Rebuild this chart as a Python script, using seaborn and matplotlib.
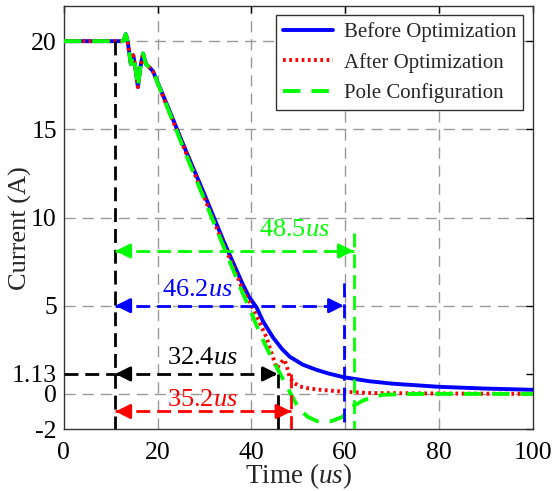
import pandas as pd
import seaborn as sns
import matplotlib.pyplot as plt

# shared start of the current curves (before the three designs split)
t_head = [0, 12.4, 12.8, 13.2, 13.6, 14.3, 14.8, 15.2, 15.8, 16.3, 16.9, 17.5, 18.3, 19]
i_head = [20, 20, 20.05, 20.4, 20.0, 18.7, 19.2, 18.6, 17.4, 18.5, 19.3, 18.7, 18.5, 18.3]

t_before = [22, 26, 30, 34, 36, 38, 39.5, 41.1, 42.5, 44.6, 46.5, 48.2, 51, 53.9, 56.5, 59.6, 65, 70, 80, 90, 100]
i_before = [16.4, 13.8, 11.3, 8.7, 7.5, 6.3, 5.5, 4.9, 4.1, 3.2, 2.55, 2.1, 1.65, 1.36, 1.15, 0.95, 0.72, 0.58, 0.4, 0.3, 0.23]

t_after = [22, 26, 30, 34, 36, 38, 40, 42, 43.2, 44.3, 45.4, 46.4, 47, 47.5, 48.2, 49.2, 50.3, 52, 55, 60, 65, 80, 100]
i_after = [16.3, 13.7, 11.1, 8.5, 7.3, 6.0, 5.0, 3.9, 3.2, 2.3, 1.45, 1.8, 1.95, 1.6, 0.9, 0.6, 0.42, 0.32, 0.22, 0.12, 0.05, 0.02, 0.0]

t_pole = [22, 26, 30, 34, 36, 38, 40, 42, 44, 45.6, 47, 48.2, 50, 52, 54, 57, 59.5, 61, 64, 68, 75, 100]
i_pole = [16.3, 13.6, 11.0, 8.4, 7.1, 5.8, 4.6, 3.3, 2.2, 1.4, 0.7, 0.1, -0.8, -1.3, -1.55, -1.55, -1.3, -0.8, -0.35, -0.05, 0.0, 0.0]

series = ["Before Optimization", "After Optimization", "Pole Configuration"]
colors = ["#0000ff", "#ff0000", "#00ff00"]

# time-interval annotations
span_start = 11
span_ends = [45.6, 48.5, 59.7, 61.8]
span_levels = [1.13, -1.0, 5.0, 8.1]
span_tops = [1.13, 1.1, 6.3, 9.1]
span_labels = ["32.4", "35.2", "46.2", "48.5"]
span_colors = ["black", "#ff0000", "#0000ff", "#00ff00"]
label_pos = [(29.6, 2.05), (29.6, -0.35), (28.4, 5.9), (49.2, 9.3)]

rows = []
for name, t, i in zip(series, [t_before, t_after, t_pole], [i_before, i_after, i_pole]):
    for x, y in zip(t_head + t, i_head + i):
        rows.append((name, x, y))
df = pd.DataFrame(rows, columns=["series", "time", "current"])

sns.set_theme(style="white")
plt.rcParams["font.family"] = ["Liberation Serif", "DejaVu Serif"]
plt.rcParams["mathtext.fontset"] = "custom"
plt.rcParams["mathtext.rm"] = "Liberation Serif"
plt.rcParams["mathtext.it"] = "Liberation Serif:italic"

fig = plt.figure(figsize=(5.55, 4.91), dpi=100)
ax = fig.add_axes([0.115, 0.126, 0.845, 0.862])

# grid
for g in [0, 5, 10, 15, 20]:
    ax.axhline(g, color="#999999", lw=1, ls=(0, (8, 5)), zorder=0)
for g in [20, 40, 60, 80]:
    ax.axvline(g, color="#999999", lw=1, ls=(0, (8, 5)), zorder=0)

sns.lineplot(data=df, x="time", y="current", hue="series", style="series",
             hue_order=series, style_order=series, palette=colors,
             dashes={series[0]: "", series[1]: (0.7, 0.9), series[2]: (4.5, 2.8)},
             sort=False, estimator=None, lw=2.8, ax=ax, zorder=3)

# black start line
ax.plot([span_start, span_start], [20, -2], color="black", lw=2, ls=(0, (5, 2.5)), zorder=4)
ax.plot([0, span_start], [1.13, 1.13], color="black", lw=2, ls=(0, (5, 2.5)), zorder=4)

for end, lev, top, lab, c, (lx, ly) in zip(span_ends, span_levels, span_tops, span_labels, span_colors, label_pos):
    ax.plot([end, end], [top, -2], color=c, lw=2, ls=(0, (5, 2.5)), zorder=4)
    ax.plot([span_start, end], [lev, lev], color=c, lw=2, ls=(0, (5, 2.5)), zorder=4)
    for a, b in [(span_start, span_start + 3), (end, end - 3)]:
        ax.annotate("", xy=(a, lev), xytext=(b, lev),
                    arrowprops=dict(arrowstyle="-|>", color=c, lw=2, mutation_scale=22,
                                    shrinkA=0, shrinkB=0), zorder=5)
    ax.text(lx, ly, lab + r"$\mathit{us}$", color=c, fontsize=19, ha="center", va="center", zorder=6)

ax.set_xlim(0, 100)
ax.set_ylim(-2, 22)
ax.set_xticks([0, 20, 40, 60, 80, 100])
ax.set_yticks([-2, 0, 1.13, 5, 10, 15, 20])
ax.set_yticklabels(["-2", "0", "1.13", "5", "10", "15", "20"])
ax.tick_params(direction="in", length=5, width=1, labelsize=18.5, top=True, right=True,
               colors="black")
ax.tick_params(axis="x", pad=9)
ax.tick_params(axis="y", pad=5)
for s in ax.spines.values():
    s.set_color("#333333")
    s.set_linewidth(1)
ax.set_xlabel(r"Time ($\mathit{us}$)", fontsize=19.5, labelpad=-2)
ax.set_ylabel("Current (A)", fontsize=19)
ax.yaxis.set_label_coords(-0.068, 0.475)

handles, labels = ax.get_legend_handles_labels()
leg = ax.legend(handles, labels, loc="upper right", fontsize=15, frameon=True, fancybox=False,
                edgecolor="#333333", framealpha=1, handlelength=2.4, borderaxespad=0.45,
                borderpad=0.35, labelspacing=0.5, handletextpad=0.5)
leg.get_frame().set_linewidth(1)

plt.savefig("out.png", dpi=100)
